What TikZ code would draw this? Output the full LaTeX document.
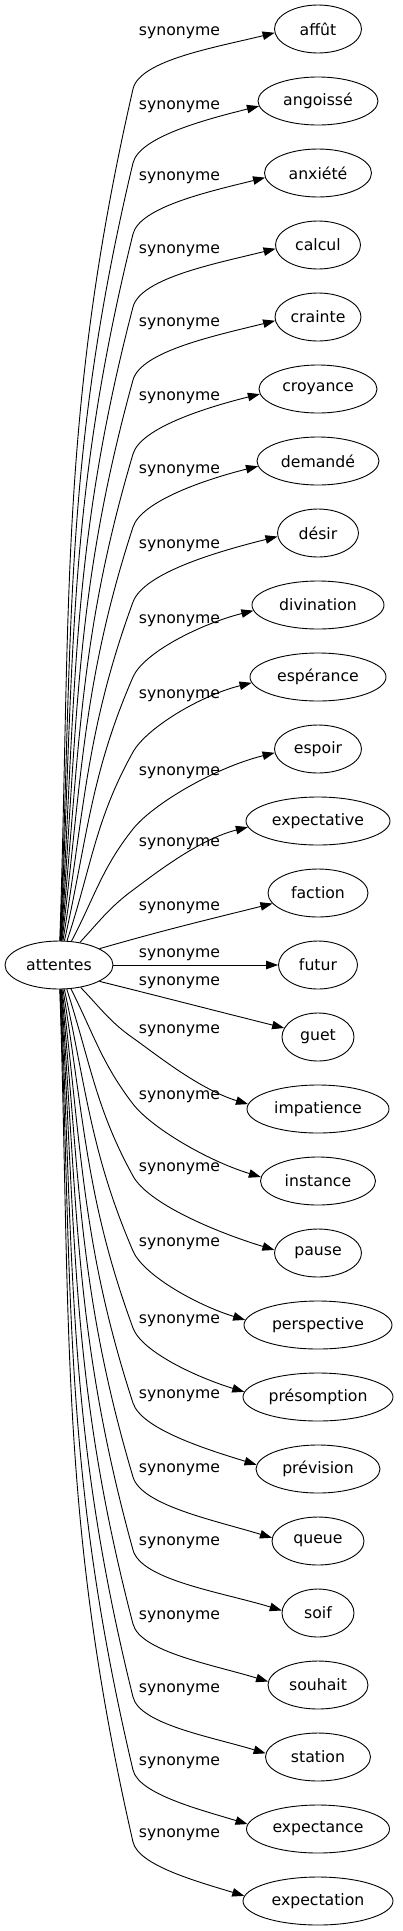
\documentclass[tikz,border=0pt]{standalone}
\usepackage{fontspec}
\setmainfont{DejaVu Sans}
\usetikzlibrary{arrows.meta,shapes.geometric}
\begin{document}
\begin{tikzpicture}[x=1pt,y=1pt,
  word/.style={ellipse, draw, line width=0.9pt, inner sep=0pt, minimum height=48pt, font=\fontsize{15.7}{18}\selectfont},
  lbl/.style={inner sep=0pt, font=\fontsize{15.7}{18}\selectfont},
  edge/.style={line width=0.9pt, -{Triangle[length=12pt,width=8.5pt]}}]
\useasboundingbox (0,0) rectangle (403,-1931);
\node[word, minimum width=108pt] (attentes) at (59,-965) {attentes};
% upper edges
\foreach \i/\t/\w/\l/\k/\c in {
  0/affût/87/32/89/85.1,
  1/angoissé/120/106/163/84.6,
  2/anxiété/107/177/234/84.1,
  3/calcul/85/250/307/83.4,
  4/crainte/86/323/380/82.6,
  5/croyance/118/397/454/81.5,
  6/demandé/122/470/527/80.0,
  7/désir/81/545/602/77.9,
  8/divination/132/620/677/74.5,
  9/espérance/136/695/752/68.9,
  10/espoir/87/772/829/59.5,
  11/expectative/144/843/890/44.5}{
  \pgfmathsetmacro\ny{-(29+72*\i)}
  \node[word, minimum width=\w pt] (n\i) at (318,\ny) {\t};
  \node[lbl] (l\i) at (179.5,-\l-1) {synonyme};
  \coordinate (k\i) at (133,-\k);
  \pgfmathsetmacro\so{\c+3}
  \pgfmathsetmacro\kh{\c-8}
  \pgfmathsetmacro\ki{\c-8+180}
  \draw[edge] (attentes) to[out=\so,in=\ki] (k\i) to[out=\kh,in=194,out looseness=0.5] (n\i.185);
}
% middle edges
\node[word, minimum width=100pt] (n12) at (318,-893) {faction};
\node[lbl] (l12) at (179.5,-908) {synonyme};
\draw[edge] (attentes.22) to[out=16,in=194] (n12.193);
\node[word, minimum width=79pt] (n13) at (318,-965) {futur};
\node[lbl] (l13) at (179.5,-955) {synonyme};
\draw[edge] (attentes) -- (n13);
\node[word, minimum width=72pt] (n14) at (318,-1037) {guet};
\node[lbl] (l14) at (179.5,-983) {synonyme};
\draw[edge] (attentes.338) to[out=-14,in=166] (n14.165);
% lower edges
\foreach \i/\t/\w/\l/\k/\c in {
  15/impatience/142/1030/1038/-43,
  16/instance/115/1096/1104/-60.5,
  17/pause/87/1168/1176/-69.2,
  18/perspective/148/1243/1251/-74.8,
  19/présomption/150/1320/1328/-77.9,
  20/prévision/124/1395/1403/-80,
  21/queue/92/1469/1477/-81.5,
  22/soif/72/1542/1550/-82.6,
  23/souhait/100/1616/1624/-83.4,
  24/station/105/1689/1697/-84.1,
  25/expectance/143/1762/1770/-84.7,
  26/expectation/150/1834/1842/-85.1}{
  \pgfmathsetmacro\ny{-(29+72*\i)}
  \node[word, minimum width=\w pt] (n\i) at (318,\ny) {\t};
  \node[lbl] (l\i) at (179.5,-\l-1) {synonyme};
  \coordinate (k\i) at (133,-\k);
  \pgfmathsetmacro\so{\c-3}
  \pgfmathsetmacro\kh{\c+8}
  \pgfmathsetmacro\ki{\c+8+180}
  \draw[edge] (attentes) to[out=\so,in=\ki] (k\i) to[out=\kh,in=163,out looseness=0.5] (n\i.176);
}
\end{tikzpicture}
\end{document}
